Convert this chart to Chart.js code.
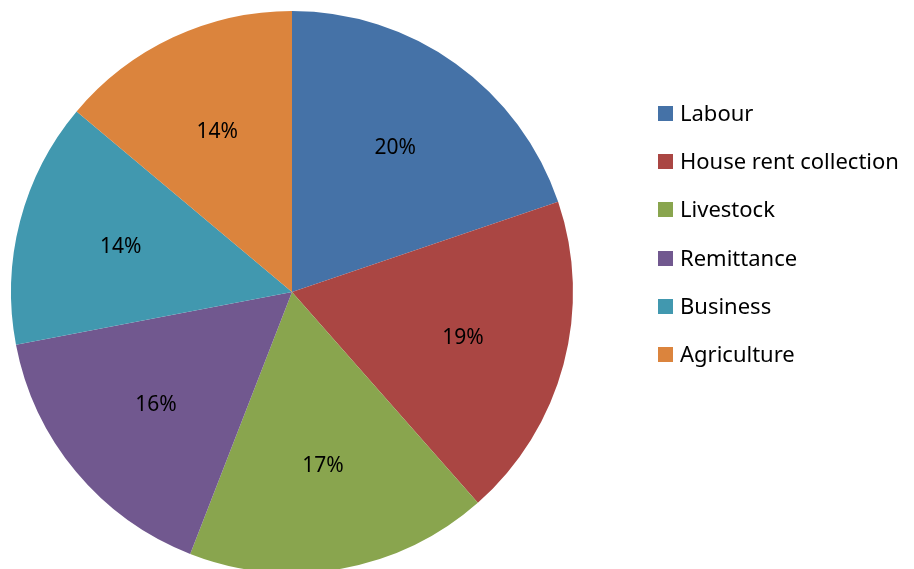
<!DOCTYPE html>
<html>
<head>
<meta charset="utf-8">
<script src="https://cdn.jsdelivr.net/npm/chart.js@4.4.0/dist/chart.umd.min.js"></script>
<style>
    html, body { margin: 0; padding: 0; background: #fff; overflow: hidden; }
    #wrap { position: relative; width: 914px; height: 569px; }
    #chart { position: absolute; left: 0; top: 0; }
    #legend { position: absolute; left: 658px; top: 97px; font-family: 'Noto Sans', sans-serif; font-size: 22px; color: #000; }
    .item { height: 48.2px; display: flex; align-items: flex-start; }
    .box { width: 15px; height: 15px; margin-top: 9px; margin-right: 7px; }
</style>
</head>
<body>
<div id="wrap">
    <canvas id="chart" width="914" height="600"></canvas>
    <div id="legend"></div>
</div>
<script>
// Chart data
const labels = ['Labour', 'House rent collection', 'Livestock', 'Remittance', 'Business', 'Agriculture'];
const values = [19.8, 18.7, 17.4, 16.1, 14.1, 13.9];
const colors = ['#4572A7', '#AA4643', '#89A54E', '#71588F', '#4198AF', '#DB843D'];

// Draw percentage labels inside slices
const percentLabels = {
    id: 'percentLabels',
    afterDatasetsDraw(chart) {
        const ctx = chart.ctx;
        const meta = chart.getDatasetMeta(0);
        const total = values.reduce((a, b) => a + b, 0);
        ctx.save();
        ctx.font = '21px "Noto Sans", sans-serif';
        ctx.fillStyle = '#000';
        ctx.textAlign = 'center';
        ctx.textBaseline = 'middle';
        meta.data.forEach((arc, i) => {
            const mid = (arc.startAngle + arc.endAngle) / 2;
            const r = arc.outerRadius * 0.63;
            const x = arc.x + Math.cos(mid) * r;
            const y = arc.y + Math.sin(mid) * r;
            ctx.fillText(Math.round(values[i] / total * 100) + '%', x, y);
        });
        ctx.restore();
    }
};

new Chart(document.getElementById('chart').getContext('2d'), {
    type: 'pie',
    data: {
        labels: labels,
        datasets: [{
            data: values,
            backgroundColor: colors,
            borderWidth: 0
        }]
    },
    options: {
        responsive: false,
        animation: false,
        layout: {
            padding: { left: 11, right: 341, top: 11, bottom: 27 }
        },
        plugins: {
            legend: { display: false },
            tooltip: { enabled: false }
        }
    },
    plugins: [percentLabels]
});

// Legend
document.getElementById('legend').innerHTML = labels.map((label, i) => `
    <div class="item"><span class="box" style="background:${colors[i]}"></span><span>${label}</span></div>
`).join('');
</script>
</body>
</html>
